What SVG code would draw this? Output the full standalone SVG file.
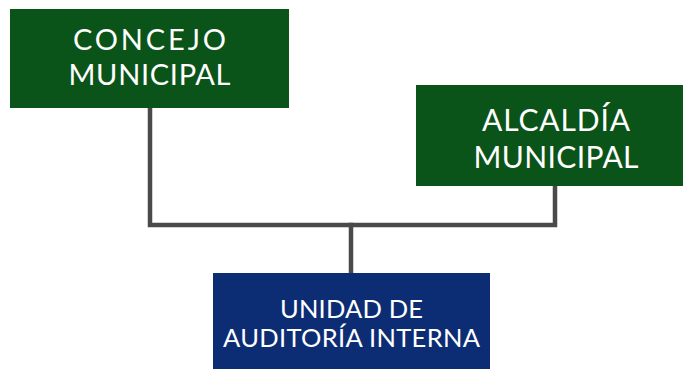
<svg xmlns="http://www.w3.org/2000/svg" width="683" height="369" viewBox="0 0 683 369">
<style>
.green{fill:#0b5419}
.blue{fill:#0c2d74}
.t{font-family:Lato,"Open Sans","DejaVu Sans",sans-serif;fill:#ffffff;text-anchor:middle}
.conn{stroke:#4a4a4a;stroke-width:4.5;fill:none;stroke-linecap:square}
</style>
<rect width="683" height="369" fill="#ffffff"/>
<g id="connectors">
<polyline class="conn" points="150,108 150,225 555,225 555,186"/>
<line class="conn" x1="351" y1="225" x2="351" y2="273"/>
</g>
<g id="concejo">
<rect class="green" x="10" y="9" width="279" height="99"/>
<text class="t" font-size="29" x="149.5" y="50" textLength="153" lengthAdjust="spacing">CONCEJO</text>
<text class="t" font-size="29" x="149.5" y="85" textLength="162" lengthAdjust="spacing">MUNICIPAL</text>
</g>
<g id="alcaldia">
<rect class="green" x="416" y="85" width="280" height="101"/>
<text class="t" font-size="30" x="556" y="131" textLength="148" lengthAdjust="spacing">ALCALDÍA</text>
<text class="t" font-size="30" x="556" y="168" textLength="165" lengthAdjust="spacing">MUNICIPAL</text>
</g>
<g id="auditoria">
<rect class="blue" x="213" y="273" width="277" height="100"/>
<text class="t" font-size="25.5" x="351.5" y="318" textLength="143" lengthAdjust="spacing">UNIDAD DE</text>
<text class="t" font-size="25.5" x="351.5" y="347" textLength="257" lengthAdjust="spacing">AUDITORÍA INTERNA</text>
</g>
</svg>
